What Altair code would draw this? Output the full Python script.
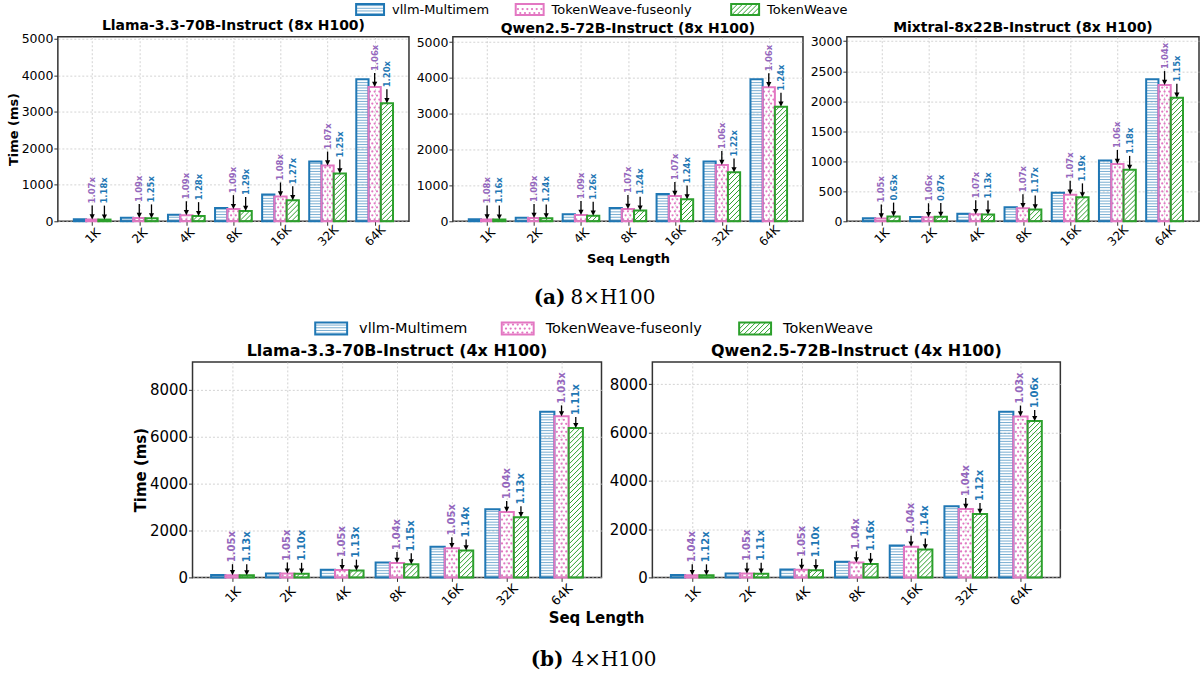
import json
import altair as alt
import pandas as pd

SEQ = ["1K", "2K", "4K", "8K", "16K", "32K", "64K"]
SERIES = ["vllm-Multimem", "TokenWeave-fuseonly", "TokenWeave"]

# ---------------- 8x H100 ----------------
llama8_multimem = [55, 100, 182, 364, 736, 1636, 3891]
llama8_fuseonly = [51, 92, 167, 334, 681, 1529, 3680]
llama8_tokenweave = [47, 80, 142, 282, 580, 1309, 3236]
llama8_speedup_fuse = ["1.07x", "1.09x", "1.09x", "1.09x", "1.08x", "1.07x", "1.06x"]
llama8_speedup_tw = ["1.18x", "1.25x", "1.28x", "1.29x", "1.27x", "1.25x", "1.20x"]

qwen8_multimem = [56, 102, 194, 370, 759, 1667, 3963]
qwen8_fuseonly = [52, 94, 178, 346, 709, 1573, 3745]
qwen8_tokenweave = [48, 82, 154, 298, 612, 1366, 3196]
qwen8_speedup_fuse = ["1.08x", "1.09x", "1.09x", "1.07x", "1.07x", "1.06x", "1.06x"]
qwen8_speedup_tw = ["1.16x", "1.24x", "1.26x", "1.24x", "1.24x", "1.22x", "1.24x"]

mixtral8_multimem = [50, 72, 127, 232, 475, 1011, 2365]
mixtral8_fuseonly = [48, 68, 119, 217, 444, 955, 2270]
mixtral8_tokenweave = [79, 74, 112, 198, 399, 857, 2058]
mixtral8_speedup_fuse = ["1.05x", "1.06x", "1.07x", "1.07x", "1.07x", "1.06x", "1.04x"]
mixtral8_speedup_tw = ["0.63x", "0.97x", "1.13x", "1.17x", "1.19x", "1.18x", "1.15x"]

# ---------------- 4x H100 ----------------
llama4_multimem = [100, 170, 327, 639, 1307, 2898, 7060]
llama4_fuseonly = [95, 162, 311, 614, 1245, 2787, 6860]
llama4_tokenweave = [88, 155, 289, 556, 1146, 2565, 6360]
llama4_speedup_fuse = ["1.05x", "1.05x", "1.05x", "1.04x", "1.05x", "1.04x", "1.03x"]
llama4_speedup_tw = ["1.13x", "1.10x", "1.13x", "1.15x", "1.14x", "1.13x", "1.11x"]

qwen4_multimem = [96, 165, 330, 646, 1320, 2942, 6860]
qwen4_fuseonly = [92, 157, 314, 621, 1269, 2829, 6660]
qwen4_tokenweave = [86, 149, 300, 557, 1158, 2627, 6470]
qwen4_speedup_fuse = ["1.04x", "1.05x", "1.05x", "1.04x", "1.04x", "1.04x", "1.03x"]
qwen4_speedup_tw = ["1.12x", "1.11x", "1.10x", "1.16x", "1.14x", "1.12x", "1.06x"]

BLUE, PINK, GREEN, PURPLE = "#1f77b4", "#e377c2", "#2ca02c", "#9467bd"
COLORS = [BLUE, PINK, GREEN]
FONT = "DejaVu Sans"
SERIF = "DejaVu Serif"

X0, X1 = -0.729, 6.729
BW = 0.26
O = 58          # canvas x of the shared left origin (left edge of the first top panel)
FULL_W = 1130   # width of the text/legend strips


def hatch(kind, xl, xr, y0, y1, kx, ky):
    """Hatch geometry inside a bar, in data units (pixel spacing converted by kx, ky)."""
    Wp = (xr - xl) * kx
    Hp = (y1 - y0) * ky
    segs, dots = [], []
    if Hp <= 0:
        return segs, dots
    if kind == "h":
        s = 2.7
        y = s / 2
        while y < Hp - 0.6:
            yy = y0 + y / ky
            segs.append({"x": xl, "x2": xr, "y": yy, "y2": yy})
            y += s
    elif kind == "d":
        s = 5.0
        c = -Wp + s / 2
        while c < Hp:
            xa = max(0.0, -c)
            xb = min(Wp, Hp - c)
            if xb - xa > 0.4:
                segs.append({"x": xl + xa / kx, "x2": xl + xb / kx,
                             "y": y0 + (xa + c) / ky, "y2": y0 + (xb + c) / ky})
            c += s
    else:
        sy, sx = 4.0, 4.7
        r = 0
        y = sy / 2
        while y < Hp - 1.0:
            for k in range(-6, 7):
                x = Wp / 2 + (k + (0.5 if r % 2 else 0.0)) * sx
                if 1.0 <= x <= Wp - 1.0:
                    dots.append({"x": xl + x / kx, "y": y0 + y / ky})
            y += sy
            r += 1
    return segs, dots


def panel(title, vals, sp_fuse, sp_tw, W, H, ystep, st, ytitle=None, xtitle=None):
    ymax = 1.3 * max(vals[0])
    kx = W / (X1 - X0)
    ky = H / ymax
    bars, hl, dg, dt, ann = [], [], [], [], []
    for s, name in enumerate(SERIES):
        for i, v in enumerate(vals[s]):
            xc = i + (s - 1) * BW
            xl, xr = xc - BW / 2, xc + BW / 2
            bars.append({"series": name, "seq": SEQ[i], "xl": xl, "xr": xr, "v": v})
            segs, dots = hatch("hod"[s], xl, xr, 0.0, v, kx, ky)
            if s == 0:
                hl.extend(segs)
            else:
                dg.extend(segs)
            dt.extend(dots)
            if s > 0:
                ann.append({"series": name, "xc": xc, "v": v,
                            "label": (sp_fuse if s == 1 else sp_tw)[i]})
    xs = alt.Scale(domain=[X0, X1], nice=False, zero=False)
    ys = alt.Scale(domain=[0, ymax], nice=False, zero=True)
    xaxis = alt.Axis(values=list(range(len(SEQ))), labelExpr=json.dumps(SEQ) + "[datum.value]",
                     labelAngle=315, labelAlign="center", labelBaseline="middle",
                     labelPadding=st["xlabpad"], labelFontSize=st["xlab"], tickSize=4,
                     grid=True, title=xtitle, titleFontSize=st["atitle"], titleFontWeight="bold",
                     titlePadding=st["xtitlepad"])
    yaxis = alt.Axis(values=list(range(0, int(ymax) + 1, ystep)), format="d", grid=True,
                     tickSize=4, labelPadding=1, labelFontSize=st["ylab"], title=ytitle,
                     titleFontSize=st["atitle"], titleFontWeight="bold", titlePadding=1)

    def X(f):
        return alt.X(f, scale=xs, axis=xaxis)

    def Y(f):
        return alt.Y(f, scale=ys, axis=yaxis)

    hl_layer = alt.Chart(pd.DataFrame(hl)).mark_rule(color=BLUE, strokeWidth=1, opacity=0.6).encode(
        x=X("x:Q"), x2="x2:Q", y=Y("y:Q"), y2="y2:Q")
    dg_layer = alt.Chart(pd.DataFrame(dg)).mark_rule(color=GREEN, strokeWidth=1).encode(
        x=X("x:Q"), x2="x2:Q", y=Y("y:Q"), y2="y2:Q")
    dt_layer = alt.Chart(pd.DataFrame(dt)).mark_circle(color=PINK, size=5, opacity=1).encode(
        x=X("x:Q"), y=Y("y:Q"))
    bar_layer = alt.Chart(pd.DataFrame(bars)).mark_rect(filled=False, strokeWidth=2).encode(
        x=X("xl:Q"), x2="xr:Q", y=Y("v:Q"), y2=alt.datum(0),
        color=alt.Color("series:N", scale=alt.Scale(domain=SERIES, range=COLORS), legend=None))
    adf = pd.DataFrame(ann)
    L = st["arrow"]
    arrow_layer = alt.Chart(adf).transform_calculate(
        ytop=f"datum.v + {L / ky}", ybot=f"datum.v + {3 / ky}"
    ).mark_rule(color="black", strokeWidth=1.3).encode(
        x=X("xc:Q"), y=Y("ytop:Q"), y2="ybot:Q")
    head_layer = alt.Chart(adf).transform_calculate(
        yh=f"datum.v + {2.6 / ky}"
    ).mark_point(shape="M-1,-1L1,-1L0,1Z", filled=True, size=27, color="black", opacity=1).encode(
        x=X("xc:Q"), y=Y("yh:Q"))
    text_layers = []
    for name, col in [(SERIES[1], PURPLE), (SERIES[2], BLUE)]:
        text_layers.append(
            alt.Chart(adf).transform_filter(alt.datum.series == name).mark_text(
                angle=270, align="left", baseline="middle", dx=L + 2, fontWeight="bold",
                fontSize=st["ann"], color=col, font=FONT).encode(
                x=X("xc:Q"), y=Y("v:Q"), text="label:N"))
    return alt.layer(hl_layer, dg_layer, dt_layer, bar_layer, arrow_layer, head_layer,
                     *text_layers).properties(
        width=W, height=H,
        title=alt.TitleParams(title, fontSize=st["title"], fontWeight="bold", font=FONT,
                              offset=st["toff"], color="black"),
        view=alt.ViewBackground(stroke="#333333", strokeWidth=1.5))


def px_layers(xs, ys, lefts, sw, sh, yc, toff, fs):
    rects, hl, dg, dt, txt = [], [], [], [], []
    for s, name in enumerate(SERIES):
        xl = lefts[s] - O
        xr = xl + sw
        yb, yt = yc + sh / 2, yc - sh / 2
        rects.append({"series": name, "xl": xl, "xr": xr, "yb": yb, "yt": yt})
        segs, dots = hatch("hod"[s], xl, xr, yb, yt, 1.0, -1.0)
        if s == 0:
            hl.extend(segs)
        else:
            dg.extend(segs)
        dt.extend(dots)
        txt.append({"series": name, "x": xl + toff, "y": yc})
    noax = dict(axis=None)
    return [
        alt.Chart(pd.DataFrame(hl)).mark_rule(color=BLUE, strokeWidth=1, opacity=0.6).encode(
            x=alt.X("x:Q", scale=xs, **noax), x2="x2:Q", y=alt.Y("y:Q", scale=ys, **noax), y2="y2:Q"),
        alt.Chart(pd.DataFrame(dg)).mark_rule(color=GREEN, strokeWidth=1).encode(
            x=alt.X("x:Q", scale=xs, **noax), x2="x2:Q", y=alt.Y("y:Q", scale=ys, **noax), y2="y2:Q"),
        alt.Chart(pd.DataFrame(dt)).mark_circle(color=PINK, size=5, opacity=1).encode(
            x=alt.X("x:Q", scale=xs, **noax), y=alt.Y("y:Q", scale=ys, **noax)),
        alt.Chart(pd.DataFrame(rects)).mark_rect(filled=False, strokeWidth=2).encode(
            x=alt.X("xl:Q", scale=xs, **noax), x2="xr:Q", y=alt.Y("yb:Q", scale=ys, **noax), y2="yt:Q",
            color=alt.Color("series:N", scale=alt.Scale(domain=SERIES, range=COLORS), legend=None)),
        alt.Chart(pd.DataFrame(txt)).mark_text(align="left", baseline="middle", fontSize=fs,
                                               font=FONT, color="black").encode(
            x=alt.X("x:Q", scale=xs, **noax), y=alt.Y("y:Q", scale=ys, **noax), text="series:N"),
    ]


def text_layer(xs, ys, x, y, t, **kw):
    return alt.Chart(pd.DataFrame({"x": [x - O], "y": [y], "t": [t]})).mark_text(
        baseline="middle", color="black", **kw).encode(
        x=alt.X("x:Q", scale=xs, axis=None), y=alt.Y("y:Q", scale=ys, axis=None), text="t:N")


def px_scales(Hc):
    return (alt.Scale(domain=[0, FULL_W], nice=False, zero=False),
            alt.Scale(domain=[Hc, 0], nice=False, zero=False))


NOVIEW = alt.ViewBackground(stroke="transparent", strokeWidth=0)

# ---- legend 1 (y measured from the strip's top) ----
H_L1 = 17
xs, ys = px_scales(H_L1)
legend1 = alt.layer(*px_layers(xs, ys, [357, 517, 733], 28, 11, 8.7, 36, 13)).properties(
    width=FULL_W, height=H_L1, view=NOVIEW)

TOP = dict(xlabpad=10, xlab=12, atitle=13, xtitlepad=5, ylab=12.5, ann=8.5, arrow=14, title=14, toff=0)
BOT = dict(xlabpad=13, xlab=12.5, atitle=15, xtitlepad=2, ylab=15, ann=10, arrow=11, title=16, toff=3)

p1 = panel("Llama-3.3-70B-Instruct (8x H100)", [llama8_multimem, llama8_fuseonly, llama8_tokenweave],
           llama8_speedup_fuse, llama8_speedup_tw, 352, 185, 1000, TOP, ytitle="Time (ms)")
p2 = panel("Qwen2.5-72B-Instruct (8x H100)", [qwen8_multimem, qwen8_fuseonly, qwen8_tokenweave],
           qwen8_speedup_fuse, qwen8_speedup_tw, 351, 185, 1000, TOP, xtitle="Seq Length")
p3 = panel("Mixtral-8x22B-Instruct (8x H100)", [mixtral8_multimem, mixtral8_fuseonly, mixtral8_tokenweave],
           mixtral8_speedup_fuse, mixtral8_speedup_tw, 353, 185, 500, TOP)
row1 = alt.hconcat(p1, p2, p3, spacing=5)

# ---- caption (a) + legend 2 ----
H_M = 75
xs, ys = px_scales(H_M)
mid = alt.layer(
    text_layer(xs, ys, 535, 31, "(a)", align="left", font=SERIF, fontSize=20, fontWeight="bold"),
    text_layer(xs, ys, 572, 31, "8×H100", align="left", font=SERIF, fontSize=20),
    *px_layers(xs, ys, [316, 503, 741], 32, 12, 61.5, 44, 14.5),
).properties(width=FULL_W, height=H_M, view=NOVIEW)

spacer = alt.Chart(pd.DataFrame({"a": [0]})).mark_point(opacity=0).encode(
    x=alt.value(0), y=alt.value(0)).properties(width=69, height=216, view=NOVIEW)
p4 = panel("Llama-3.3-70B-Instruct (4x H100)", [llama4_multimem, llama4_fuseonly, llama4_tokenweave],
           llama4_speedup_fuse, llama4_speedup_tw, 410, 216, 2000, BOT, ytitle="Time (ms)")
p5 = panel("Qwen2.5-72B-Instruct (4x H100)", [qwen4_multimem, qwen4_fuseonly, qwen4_tokenweave],
           qwen4_speedup_fuse, qwen4_speedup_tw, 409, 216, 2000, BOT)
row2 = alt.hconcat(spacer, p4, p5, spacing=6)

# ---- Seq Length + caption (b) ----
H_B = 64
xs, ys = px_scales(H_B)
bottom = alt.layer(
    text_layer(xs, ys, 598, 9.5, "Seq Length", align="center", font=FONT, fontSize=15, fontWeight="bold"),
    text_layer(xs, ys, 532, 51.5, "(b)", align="left", font=SERIF, fontSize=20, fontWeight="bold"),
    text_layer(xs, ys, 573, 51.5, "4×H100", align="left", font=SERIF, fontSize=20),
).properties(width=FULL_W, height=H_B, view=NOVIEW)

chart = alt.vconcat(legend1, row1, mid, row2, bottom, spacing=0).properties(
    padding={"left": 6, "top": 0, "right": 0, "bottom": 0}, background="white"
).configure_view(strokeWidth=0).configure_axis(
    labelFont=FONT, titleFont=FONT, labelColor="black", titleColor="black", tickColor="#333333",
    domain=False, gridColor="#c8c8c8", gridDash=[2, 2], gridWidth=0.8
).configure_title(font=FONT, color="black")

chart.save("out.html", embed_options={"renderer": "svg", "actions": False})
